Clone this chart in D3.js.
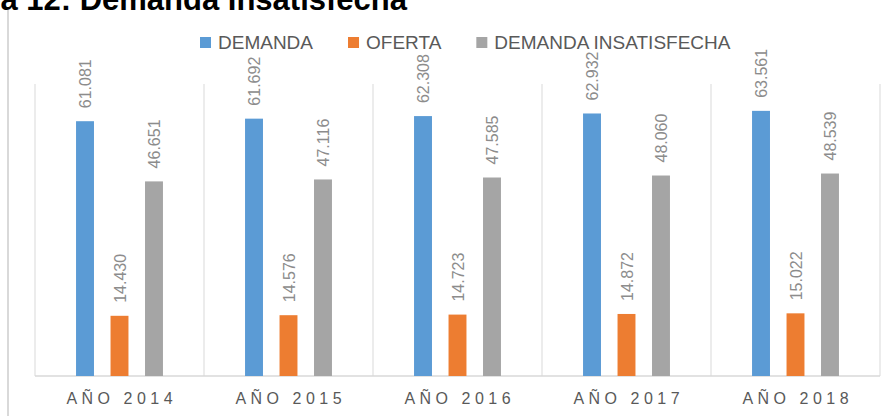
<!DOCTYPE html>
<html>
<head>
<meta charset="utf-8">
<script src="https://cdn.jsdelivr.net/npm/d3@7"></script>
<style>
  body { margin: 0; background: #fff; }
  svg { display: block; font-family: "Liberation Sans", Arial, sans-serif; }
</style>
</head>
<body>
<svg id="chart" width="893" height="416"></svg>
<script>
// data
const years = ['AÑO 2014', 'AÑO 2015', 'AÑO 2016', 'AÑO 2017', 'AÑO 2018']
const demanda = [61081, 61692, 62308, 62932, 63561]
const oferta = [14430, 14576, 14723, 14872, 15022]
const insatisfecha = [46651, 47116, 47585, 48060, 48539]
const seriesNames = ['DEMANDA', 'OFERTA', 'DEMANDA INSATISFECHA']
const colors = ['#5b9bd5', '#ed7d31', '#a5a5a5']

const drawChart = () => {
    const svg = d3.select('#chart')
    const margin = { 'left': 35, 'right': 13, 'top': 84, 'bottom': 40 }
    const width = 893 - margin.left - margin.right
    const height = 416 - margin.top - margin.bottom

    const fmt = d3.formatLocale({ decimal: ',', thousands: '.', grouping: [3], currency: ['', ''] }).format(',d')

    const x = d3.scaleBand()
        .domain(years)
        .range([margin.left, margin.left + width])

    const xInner = d3.scaleBand()
        .domain(seriesNames)
        .range([0, x.bandwidth()])
        .paddingInner(0.48)
        .paddingOuter(1.19)

    const y = d3.scaleLinear()
        .domain([0, 70000])
        .range([margin.top + height, margin.top])

    const allSeries = [demanda, oferta, insatisfecha]
    const rows = []
    years.forEach((yr, i) => {
        seriesNames.forEach((s, j) => {
            rows.push({ 'year': yr, 'series': s, 'value': allSeries[j][i], 'color': colors[j] })
        })
    })

    // title, cut off by the top edge
    svg.append('text')
        .attr('x', 407)
        .attr('y', 10)
        .attr('text-anchor', 'end')
        .style('font-size', '31px')
        .style('font-weight', 'bold')
        .style('fill', '#000')
        .text('Gráfica 12: Demanda Insatisfecha')

    // left frame line
    svg.append('line')
        .attr('x1', 8).attr('x2', 8)
        .attr('y1', 10).attr('y2', 416)
        .attr('stroke', '#d9d9d9')
        .attr('stroke-width', 2)

    // vertical gridlines at category borders
    const borders = years.map(d => x(d)).concat([margin.left + width])
    svg.append('g')
        .selectAll('line')
        .data(borders)
        .join('line')
        .attr('x1', d => d).attr('x2', d => d)
        .attr('y1', y(70000)).attr('y2', y(0))
        .attr('stroke', '#d9d9d9')
        .attr('stroke-width', 1)

    svg.append('line')
        .attr('x1', margin.left).attr('x2', margin.left + width)
        .attr('y1', y(0)).attr('y2', y(0))
        .attr('stroke', '#d9d9d9')
        .attr('stroke-width', 1.5)

    // bars
    svg.append('g')
        .selectAll('rect')
        .data(rows)
        .join('rect')
        .attr('x', d => x(d.year) + xInner(d.series))
        .attr('width', xInner.bandwidth())
        .attr('y', d => y(d.value))
        .attr('height', d => y(0) - y(d.value))
        .style('fill', d => d.color)

    // rotated value labels
    svg.append('g')
        .selectAll('text')
        .data(rows)
        .join('text')
        .attr('transform', d => {
            const cx = x(d.year) + xInner(d.series) + xInner.bandwidth() / 2 + 6
            const cy = y(d.value) - 13
            return `translate(${cx},${cy}) rotate(-90)`
        })
        .style('font-size', '16px')
        .style('fill', '#8c8c8c')
        .text(d => fmt(d.value))

    // category labels
    const spacing = 4.5
    svg.append('g')
        .selectAll('text')
        .data(years)
        .join('text')
        .attr('x', d => x(d) + x.bandwidth() / 2 + spacing / 2)
        .attr('y', 404)
        .attr('text-anchor', 'middle')
        .style('font-size', '16px')
        .style('letter-spacing', spacing + 'px')
        .style('fill', '#595959')
        .text(d => d)

    // legend
    const legend = svg.append('g')
    let lx = 200
    seriesNames.forEach((s, i) => {
        legend.append('rect')
            .attr('x', lx).attr('y', 37)
            .attr('width', 11).attr('height', 11)
            .style('fill', colors[i])
        const t = legend.append('text')
            .attr('x', lx + 18)
            .attr('y', 49)
            .style('font-size', '19px')
            .style('fill', '#595959')
            .text(s)
        lx = lx + 18 + t.node().getComputedTextLength() + 35
    })
}

drawChart()
</script>
</body>
</html>
